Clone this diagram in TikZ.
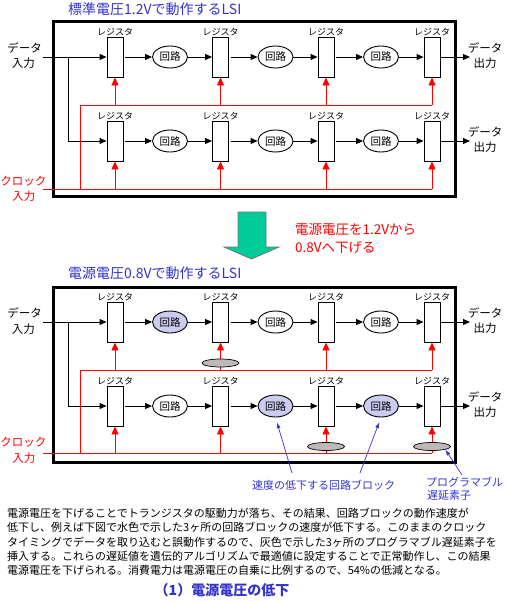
\documentclass[tikz,border=0pt]{standalone}
\usepackage{fontspec}
\setmainfont{Noto Sans CJK JP}
\usepackage{xcolor}
\usetikzlibrary{arrows.meta,positioning,shapes.geometric}
\definecolor{lsiblue}{RGB}{51,51,204}
\definecolor{slowblue}{RGB}{204,204,240}
\definecolor{delaygray}{RGB}{190,184,184}
\definecolor{downgreen}{RGB}{0,204,153}

\begin{document}
\begin{tikzpicture}[x=1pt, y=-1pt,
  reg/.style={draw, fill=white, line width=0.9pt, minimum width=16pt, minimum height=40pt, inner sep=0pt},
  regname/.style={inner sep=0pt, font=\fontsize{9}{9.5}\selectfont},
  circ/.style={ellipse, draw, fill=white, line width=0.9pt, minimum width=35pt, minimum height=22pt, inner sep=0pt, font=\fontsize{10.5}{11}\selectfont},
  slow/.style={circ, fill=slowblue},
  delay/.style={ellipse, draw, fill=delaygray, line width=0.7pt, minimum width=37pt, minimum height=8pt, inner sep=0pt},
  io/.style={inner sep=0pt, font=\fontsize{11.5}{12}\selectfont},
  clktxt/.style={io, text=red},
  title/.style={anchor=west, inner sep=0pt, text=lsiblue, font=\fontsize{14}{15}\selectfont},
  redtxt/.style={anchor=west, inner sep=0pt, text=red, font=\fontsize{13.5}{14}\selectfont},
  notetxt/.style={anchor=west, inner sep=0pt, text=lsiblue, font=\fontsize{11}{12}\selectfont},
  body/.style={anchor=west, inner sep=0pt, font=\fontsize{11}{11.5}\selectfont},
  arr/.style={-{Triangle[length=7pt, width=6pt]}, line width=0.9pt},
  clk/.style={red, line width=0.9pt},
  clkarr/.style={clk, -{Triangle[length=8pt, width=7pt]}},
  note/.style={-{Latex[length=6pt, width=4pt]}, lsiblue, line width=0.7pt},
  lsi/.style={draw, line width=3pt}
]
\useasboundingbox (0,0) rectangle (508,602);

% LSI at 1.2V
\node[title] (ttitle) at (68,9) {標準電圧1.2Vで動作するLSI};
\draw[lsi] (53,22) rectangle (455,196);
\foreach \row/\y in {a/57, b/141} {
  \foreach \i/\x in {1/115, 2/220.5, 3/326, 4/432} {
    \node[reg] (t\row\i) at (\x,\y) {};
    \node[regname, above=0.5pt of t\row\i] (t\row l\i) {レジスタ};
  }
  \foreach \i/\x in {1/170, 2/275.5, 3/381}
    \node[circ] (t\row c\i) at (\x,\y) {回路};
  \foreach \i/\j in {1/2, 2/3, 3/4} {
    \draw[arr, shorten <=2pt] (t\row\i) -- (t\row c\i);
    \draw[arr] (t\row c\i) -- (t\row\j);
  }
  \coordinate (t\row o) at (470,\y);
  \draw[arr] (t\row4) -- (t\row o);
  \node[io] (t\row out1) at (485,\y-9) {データ};
  \node[io] (t\row out2) at (485,\y+6) {出力};
}
\node[io] (tdin1) at (24.5,48) {データ};
\node[io] (tdin2) at (23.5,63) {入力};
\coordinate (tdin) at (43,57);
\coordinate (tfork) at (68,57);
\draw[arr] (tdin) -- (ta1);
\draw[arr] (tfork) |- (tb1);
\node[clktxt] (tclk1) at (23.5,181) {クロック};
\node[clktxt] (tclk2) at (24,196) {入力};
\coordinate (tclk) at (43,189);
\coordinate (tclkfork) at (80,189);
\coordinate (tclkrow) at (80,105);
\draw[clk] (tclk) -- (tb4 |- tclk);
\draw[clk] (tclkfork) -- (tclkrow) -- (ta4 |- tclkrow);
\foreach \i in {1,...,4} {
  \draw[clkarr] (ta\i |- tclkrow) -- (ta\i);
  \draw[clkarr] (tb\i |- tclk) -- (tb\i);
}

% lower the supply
\draw[draw=black!55, fill=downgreen, line width=0.8pt] (238,212) -- (266,212) -- (266,247) -- (279,247) -- (251.5,259) -- (224,247) -- (238,247) -- cycle;
\node[redtxt] (vdd1) at (295,229) {電源電圧を1.2Vから};
\node[redtxt] (vdd2) at (295,247) {0.8Vへ下げる};

% LSI at 0.8V
\node[title] (btitle) at (68,273) {電源電圧0.8Vで動作するLSI};
\draw[lsi] (53,287) rectangle (455,462);
\foreach \row/\y in {a/322, b/406} {
  \foreach \i/\x in {1/115, 2/220.5, 3/326, 4/432} {
    \node[reg] (b\row\i) at (\x,\y) {};
    \node[regname, above=0.5pt of b\row\i] (b\row l\i) {レジスタ};
  }
  \coordinate (b\row o) at (470,\y);
  \node[io] (b\row out1) at (485,\y-9) {データ};
  \node[io] (b\row out2) at (485,\y+6) {出力};
}
\node[slow] (bac1) at (170,322) {回路};
\node[circ] (bac2) at (275.5,322) {回路};
\node[circ] (bac3) at (381,322) {回路};
\node[circ] (bbc1) at (170,406) {回路};
\node[slow] (bbc2) at (275.5,406) {回路};
\node[slow] (bbc3) at (381,406) {回路};
\foreach \row in {a,b} {
  \foreach \i/\j in {1/2, 2/3, 3/4} {
    \draw[arr, shorten <=2pt] (b\row\i) -- (b\row c\i);
    \draw[arr] (b\row c\i) -- (b\row\j);
  }
  \draw[arr] (b\row4) -- (b\row o);
}
\node[io] (bdin1) at (24.5,313) {データ};
\node[io] (bdin2) at (23.5,329) {入力};
\coordinate (bdin) at (43,322);
\coordinate (bfork) at (68,322);
\draw[arr] (bdin) -- (ba1);
\draw[arr] (bfork) |- (bb1);
\node[clktxt] (bclk1) at (23.5,442) {クロック};
\node[clktxt] (bclk2) at (24,458) {入力};
\coordinate (bclk) at (43,453);
\coordinate (bclkfork) at (80,453);
\coordinate (bclkrow) at (80,370);
\draw[clk] (bclk) -- (bb4 |- bclk);
\draw[clk] (bclkfork) -- (bclkrow) -- (ba4 |- bclkrow);
\foreach \i in {1,...,4} {
  \draw[clkarr] (ba\i |- bclkrow) -- (ba\i);
  \draw[clkarr] (bb\i |- bclk) -- (bb\i);
}
\node[delay] (bd2) at (220.5,363) {};
\node[delay] (bd3) at (326,446.5) {};
\node[delay] (bd4) at (432,446.5) {};

% notes
\node[notetxt] (slowtxt) at (252,485) {速度の低下する回路ブロック};
\coordinate (slow1) at (292,473);
\coordinate (slow2) at (360,473);
\draw[note, shorten >=5pt] (slow1) -- (bbc2.south);
\draw[note, shorten >=5pt] (slow2) -- (bbc3.south);
\node[notetxt] (dlytxt1) at (426,482) {プログラマブル};
\node[notetxt] (dlytxt2) at (427,495) {遅延素子};
\coordinate (dly) at (462,475);
\draw[note] (dly) -- (bd4.south east);

\node[body] (txt1) at (7,513) {電源電圧を下げることでトランジスタの駆動力が落ち、その結果、回路ブロックの動作速度が};
\node[body] (txt2) at (7,527.5) {低下し、例えば下図で水色で示した3ヶ所の回路ブロックの速度が低下する。このままのクロック};
\node[body] (txt3) at (7,542) {タイミングでデータを取り込むと誤動作するので、灰色で示した3ヶ所のプログラマブル遅延素子を};
\node[body] (txt4) at (7,556) {挿入する。これらの遅延値を遺伝的アルゴリズムで最適値に設定することで正常動作し、この結果};
\node[body] (txt5) at (7,570.5) {電源電圧を下げられる。消費電力は電源電圧の自乗に比例するので、54\%の低減となる。};
\node[inner sep=0pt, text=lsiblue, font=\fontsize{14}{15}\selectfont\bfseries] (caption) at (222,590) {（1）電源電圧の低下};
\end{tikzpicture}
\end{document}
